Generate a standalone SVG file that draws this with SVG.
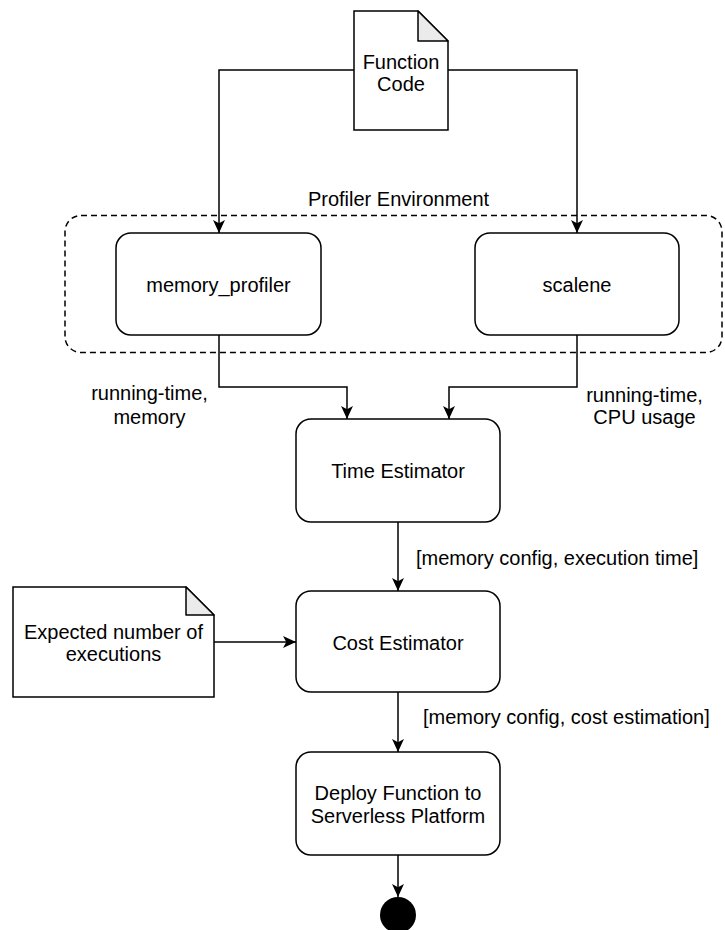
<svg xmlns="http://www.w3.org/2000/svg" width="725" height="930" viewBox="0 0 725 930">
<defs>
<marker id="arr" viewBox="0 0 12 12" refX="12" refY="6" markerWidth="13" markerHeight="13" markerUnits="userSpaceOnUse" orient="auto">
<path d="M0,0.5 L12,6 L0,11.5 L3,6 Z" fill="#000"/>
</marker>
<style>
.box{fill:#fff;stroke:#000;stroke-width:1.5}
.fold{fill:#ebebeb;stroke:#000;stroke-width:1.5;stroke-linejoin:round}
.edge{fill:none;stroke:#000;stroke-width:1.5}
.t{font-family:"Liberation Sans",Arial,Helvetica,sans-serif;font-size:20px;fill:#000;text-anchor:middle}
.ts{font-family:"Liberation Sans",Arial,Helvetica,sans-serif;font-size:20px;fill:#000;text-anchor:start}
</style>
</defs>
<rect width="725" height="930" fill="#fff"/>

<g id="profiler-environment">
<rect x="65" y="215.5" width="657" height="137" rx="16" ry="16" fill="none" stroke="#000" stroke-width="1.5" stroke-dasharray="6 4"/>
<text class="t" x="398.5" y="206">Profiler Environment</text>
</g>

<g id="connectors">
<path class="edge" d="M354,70 H219 V233" marker-end="url(#arr)"/>
<path class="edge" d="M448,70 H577 V233" marker-end="url(#arr)"/>
<path class="edge" d="M219,335 V387 H347 V419" marker-end="url(#arr)"/>
<path class="edge" d="M577,335 V387 H449 V419" marker-end="url(#arr)"/>
<path class="edge" d="M398,522 V591" marker-end="url(#arr)"/>
<path class="edge" d="M214,642 H296" marker-end="url(#arr)"/>
<path class="edge" d="M398,692 V752" marker-end="url(#arr)"/>
<path class="edge" d="M398,855 V897" marker-end="url(#arr)"/>
<text class="t" x="149.5" y="400">running-time,</text>
<text class="t" x="149.5" y="424">memory</text>
<text class="t" x="644.5" y="402">running-time,</text>
<text class="t" x="644.5" y="424">CPU usage</text>
<text class="ts" x="416" y="565">[memory config, execution time]</text>
<text class="ts" x="423" y="724">[memory config, cost estimation]</text>
</g>

<g id="function-code">
<path class="box" d="M354,11 H418 L448,41 V130 H354 Z"/>
<path class="fold" d="M418,11 V41 H448 Z"/>
<text class="t" x="401" y="69">Function</text>
<text class="t" x="401" y="91">Code</text>
</g>

<g id="memory-profiler">
<rect class="box" x="116" y="233" width="205" height="102" rx="15" ry="15"/>
<text class="t" x="218.5" y="292">memory_profiler</text>
</g>

<g id="scalene">
<rect class="box" x="475" y="233" width="204" height="102" rx="15" ry="15"/>
<text class="t" x="577" y="292">scalene</text>
</g>

<g id="time-estimator">
<rect class="box" x="296" y="419" width="204" height="103" rx="15" ry="15"/>
<text class="t" x="398" y="478">Time Estimator</text>
</g>

<g id="expected-executions">
<path class="box" d="M13,587 H186 L214,615 V697 H13 Z"/>
<path class="fold" d="M186,587 V615 H214 Z"/>
<text class="t" x="113.5" y="639">Expected number of</text>
<text class="t" x="113.5" y="661">executions</text>
</g>

<g id="cost-estimator">
<rect class="box" x="296" y="591" width="204" height="101" rx="15" ry="15"/>
<text class="t" x="398" y="650">Cost Estimator</text>
</g>

<g id="deploy-function">
<rect class="box" x="296" y="752" width="204" height="103" rx="15" ry="15"/>
<text class="t" x="398" y="800">Deploy Function to</text>
<text class="t" x="398" y="823">Serverless Platform</text>
</g>

<g id="end">
<circle cx="398" cy="915" r="18" fill="#000"/>
</g>
</svg>
